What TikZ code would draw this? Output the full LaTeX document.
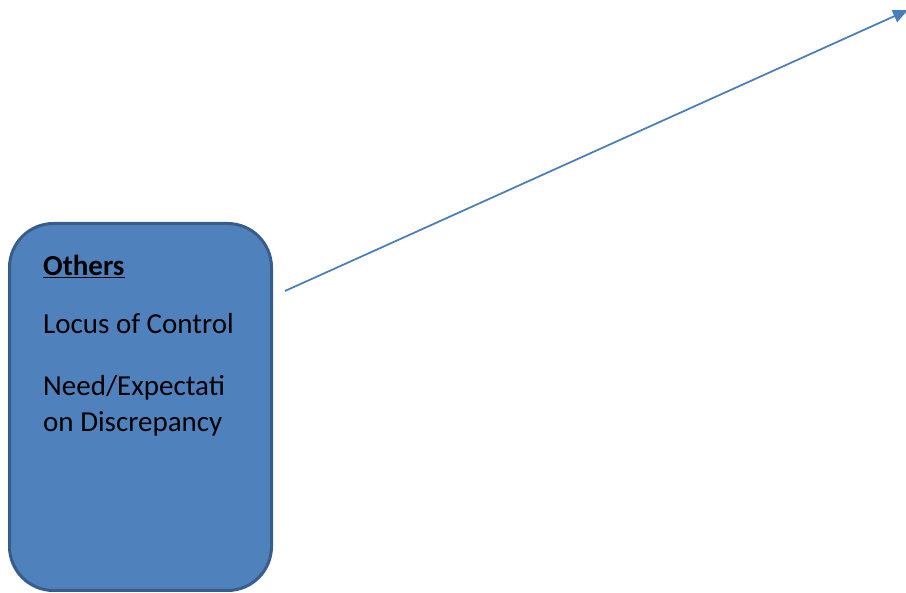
\documentclass[tikz,border=0pt]{standalone}
\usepackage{fontspec}
\setmainfont{Carlito}
\usetikzlibrary{arrows.meta}

\definecolor{boxfill}{HTML}{4F81BD}
\definecolor{boxline}{HTML}{385D8A}
\definecolor{arrowline}{HTML}{4A7EBB}

\begin{document}
\begin{tikzpicture}[x=1pt, y=-1pt,
every node/.style={inner sep=0pt},
factorbox/.style={draw=boxline, fill=boxfill, line width=3pt,
    rounded corners=44pt, minimum width=262pt, minimum height=367pt},
item/.style={anchor=base west, font=\fontsize{29}{35}\selectfont},
link/.style={draw=arrowline, line width=1.75pt,
    -{Triangle[length=15pt,width=13pt]}}
]
\useasboundingbox (0,0) rectangle (906,593);

\node[factorbox] (others) at (140.5,407) {};

\node[item] (title) at (43,276) {\underline{\textbf{Others}}};
\node[item] (locus) at (43,334) {Locus of Control};
\node[item] (need1) at (43,396) {Need/Expectati};
\node[item] (need2) at (43,432) {on Discrepancy};

\coordinate (from) at (285,291);
\coordinate (to) at (908,10);
\draw[link] (from) -- (to);

%\draw[red] (others.east) -- (from);
\end{tikzpicture}
\end{document}
